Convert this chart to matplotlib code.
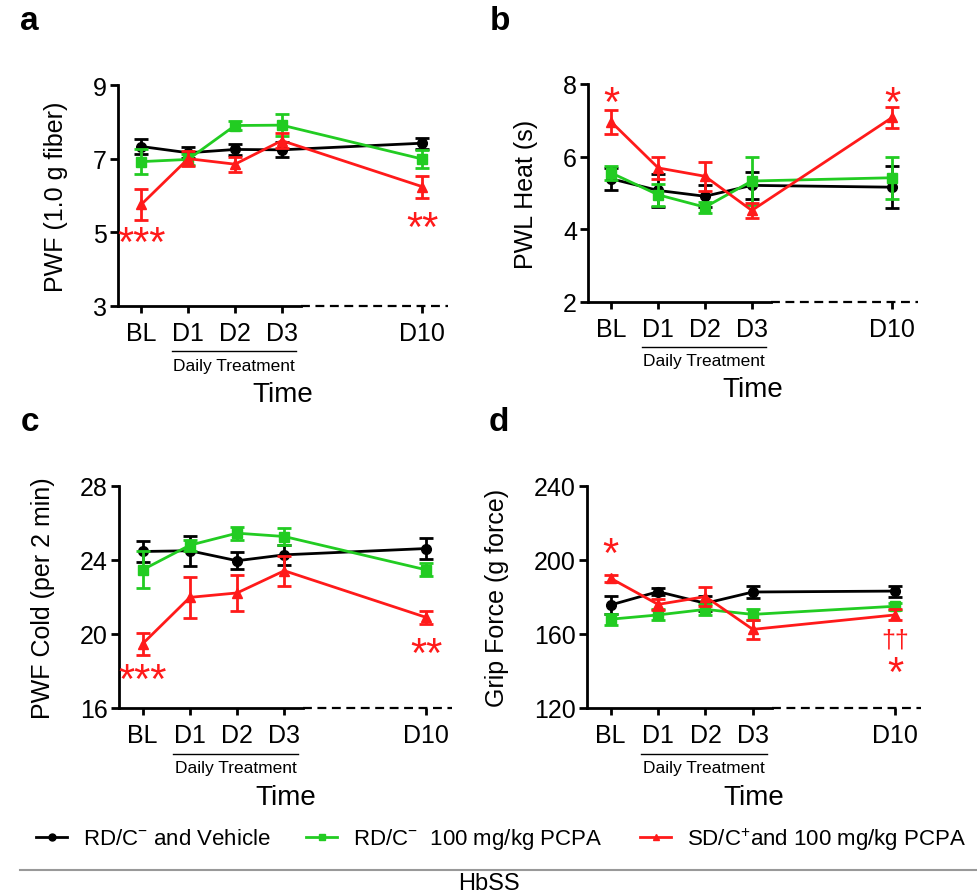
import numpy as np
import matplotlib
matplotlib.use("Agg")
import matplotlib.pyplot as plt
from matplotlib.lines import Line2D
import matplotlib.transforms as mtransforms

plt.rcParams['font.family'] = ['Liberation Sans', 'DejaVu Sans']
plt.rcParams['mathtext.fontset'] = 'custom'
plt.rcParams['mathtext.rm'] = 'Liberation Sans'

# ---- data -------------------------------------------------------------
days = ["BL", "D1", "D2", "D3", "D10"]
day_pos = [0, 1, 2, 3, 6]
groups = ["RD/C$^{-}$ and Vehicle", "RD/C$^{-}$  100 mg/kg PCPA", "SD/C$^{+}$and 100 mg/kg PCPA"]

# a: PWF (1.0 g fiber)
pwf_mean = [[7.33, 7.16, 7.25, 7.24, 7.42],
            [6.92, 6.98, 7.90, 7.91, 6.99],
            [5.76, 7.00, 6.85, 7.49, 6.24]]
pwf_err = [[0.20, 0.15, 0.15, 0.20, 0.15],
           [0.33, 0.15, 0.12, 0.30, 0.25],
           [0.42, 0.20, 0.20, 0.20, 0.30]]

# b: PWL Heat (s)
pwl_mean = [[5.39, 5.07, 4.91, 5.21, 5.16],
            [5.55, 4.95, 4.61, 5.33, 5.42],
            [6.95, 5.69, 5.46, 4.52, 7.08]]
pwl_err = [[0.30, 0.45, 0.30, 0.38, 0.58],
           [0.20, 0.30, 0.15, 0.65, 0.58],
           [0.33, 0.30, 0.40, 0.20, 0.30]]

# c: PWF Cold (per 2 min)
cold_mean = [[24.46, 24.50, 23.96, 24.28, 24.62],
             [23.47, 24.80, 25.45, 25.27, 23.47],
             [19.47, 21.98, 22.22, 23.42, 20.90]]
cold_err = [[0.55, 0.80, 0.45, 0.55, 0.55],
            [1.00, 0.30, 0.35, 0.45, 0.35],
            [0.60, 1.10, 0.95, 0.80, 0.35]]

# d: Grip Force (g force)
grip_mean = [[175.7, 182.9, 176.6, 182.7, 183.2],
             [168.0, 170.3, 173.3, 170.6, 175.0],
             [190.1, 176.0, 180.2, 162.5, 170.3]]
grip_err = [[5.0, 2.0, 4.0, 3.0, 3.0],
            [3.0, 3.0, 3.0, 3.0, 2.0],
            [2.0, 3.0, 5.0, 5.0, 3.0]]

colors = ["#000000", "#22cc22", "#ff1a1a"]
markers = ["o", "s", "^"]

panels = [
    dict(letter="a", mean=pwf_mean, err=pwf_err, ylabel="PWF (1.0 g fiber)",
         yticks=[3, 5, 7, 9], box=(118, 86, 448, 307),
         marks=[(0, 4.9, "***"), (6, 5.32, "**")]),
    dict(letter="b", mean=pwl_mean, err=pwl_err, ylabel="PWL Heat (s)",
         yticks=[2, 4, 6, 8], box=(588, 85, 918, 303),
         marks=[(0, 7.68, "*"), (6, 7.68, "*")]),
    dict(letter="c", mean=cold_mean, err=cold_err, ylabel="PWF Cold (per 2 min)",
         yticks=[16, 20, 24, 28], box=(119, 487, 452, 709),
         marks=[(0, 17.9, "***"), (6, 19.3, "**")]),
    dict(letter="d", mean=grip_mean, err=grip_err, ylabel="Grip Force (g force)",
         yticks=[120, 160, 200, 240], box=(587, 487, 921, 709),
         marks=[(0, 207, "*"), (6, 157, "††"), (6, 142.7, "*")]),
]

W, H = 977, 895
fig = plt.figure(figsize=(W / 100, H / 100), dpi=100)

for p in panels:
    x0, y0, x1, y1 = p["box"]
    ax = fig.add_axes([x0 / W, 1 - y1 / H, (x1 - x0) / W, (y1 - y0) / H])
    for i in range(3):
        ax.errorbar(day_pos, p["mean"][i], yerr=p["err"][i], color=colors[i],
                    marker=markers[i], markersize=7, lw=2, elinewidth=2,
                    capsize=5, capthick=2, clip_on=False, zorder=3 + i)
    ax.set_xlim(-0.5, 6.55)
    ax.set_ylim(p["yticks"][0], p["yticks"][-1])
    ax.set_yticks(p["yticks"])
    ax.set_xticks(day_pos)
    ax.set_xticklabels(days)
    ax.tick_params(axis="both", labelsize=18, width=2, length=6, direction="out")
    ax.tick_params(axis="x", length=5, pad=6)
    ax.tick_params(axis="y", pad=2)
    for s in ["top", "right", "bottom"]:
        ax.spines[s].set_visible(False)
    ax.spines["left"].set_linewidth(2)
    ax.set_ylabel(p["ylabel"], fontsize=18, labelpad=18)

    # broken x axis: solid up to D3, dashed to D10
    tr = mtransforms.blended_transform_factory(ax.transData, ax.transAxes)
    ax.plot([-0.5, 3.4], [0, 0], color="k", lw=2, transform=tr, clip_on=False)
    ax.plot([3.4, 6.55], [0, 0], color="k", lw=1.6, ls=(0, (4, 2.5)),
            transform=tr, clip_on=False)

    # daily treatment bracket
    ax.plot([0.65, 3.3], [-0.205, -0.205], color="k", lw=1, transform=tr,
            clip_on=False)
    ax.text(1.97, -0.27, "Daily Treatment", transform=tr, ha="center",
            va="center", fontsize=12.5)
    ax.text(0.5, -0.40, "Time", transform=ax.transAxes, ha="center",
            va="center", fontsize=20)

    # significance marks (asterisk glyph sits high in its box, so shift down)
    for xm, ym, s in p["marks"]:
        if "*" in s:
            ax.annotate(s, (xm, ym), xytext=(0, -0.46 * 30),
                        textcoords="offset points", color="#ff1a1a",
                        ha="center", va="baseline", fontsize=30)
        else:
            ax.text(xm, ym, s, color="#ff1a1a", ha="center", va="center",
                    fontsize=18)

    fig.text((x0 - 98) / W, 1 - (y0 - 64) / H, p["letter"], fontsize=24,
             fontweight="bold", ha="left", va="center")

# legend, one entry at a time so each sits where the reference has it
leg_x = [36, 306, 640]
for i in range(3):
    h = Line2D([0], [0], color=colors[i], marker=markers[i], markersize=5, lw=2)
    fig.legend([h], [groups[i]], loc="center left",
               bbox_to_anchor=(leg_x[i] / W, 1 - 840 / H), frameon=False,
               fontsize=16, handlelength=1.4, handletextpad=0.7,
               borderpad=0, borderaxespad=0)

fig.add_artist(Line2D([20 / W, 1.0], [1 - 871 / H] * 2, color="#999999", lw=1.5))
fig.text(0.5, 1 - 884 / H, "HbSS", ha="center", va="center", fontsize=17)

fig.savefig("out.png", dpi=100)
